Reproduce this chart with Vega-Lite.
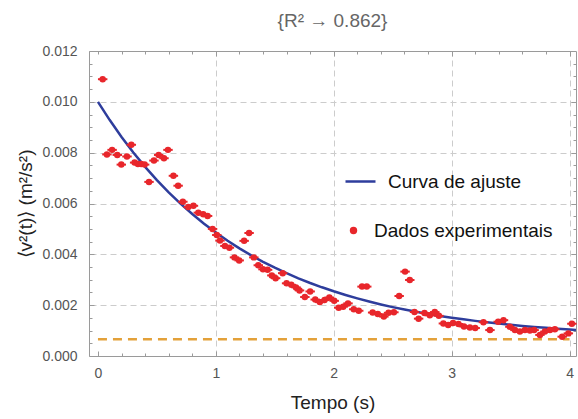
{
  "$schema": "https://vega.github.io/schema/vega-lite/v6.json",
  "width": 487,
  "height": 305,
  "autosize": "none",
  "padding": {"left": 89, "top": 51, "right": 2, "bottom": 63},
  "background": "white",
  "config": {
    "font": "Liberation Sans",
    "view": {"stroke": null},
    "axis": {
      "domainColor": "#9a9a9a",
      "tickColor": "#9a9a9a",
      "labelColor": "#555555",
      "labelFontSize": 14,
      "titleColor": "#222222",
      "titleFontSize": 19,
      "titleFontWeight": "normal",
      "gridColor": "#cccccc",
      "gridDash": [6, 4],
      "gridWidth": 1
    }
  },
  "title": {
    "text": "{R² → 0.862}",
    "fontSize": 19,
    "fontWeight": "normal",
    "color": "#666666",
    "anchor": "middle",
    "offset": 13
  },
  "datasets": {
    "medidas": [
      {"t": 0.04, "v": 0.01089, "dt": 0.04},
      {"t": 0.076, "v": 0.00793, "dt": 0.04},
      {"t": 0.12, "v": 0.00811, "dt": 0.04},
      {"t": 0.164, "v": 0.00791, "dt": 0.04},
      {"t": 0.198, "v": 0.00753, "dt": 0.04},
      {"t": 0.246, "v": 0.00785, "dt": 0.04},
      {"t": 0.283, "v": 0.00831, "dt": 0.04},
      {"t": 0.311, "v": 0.00761, "dt": 0.04},
      {"t": 0.339, "v": 0.00755, "dt": 0.04},
      {"t": 0.367, "v": 0.00755, "dt": 0.04},
      {"t": 0.396, "v": 0.00753, "dt": 0.04},
      {"t": 0.433, "v": 0.00685, "dt": 0.04},
      {"t": 0.475, "v": 0.00769, "dt": 0.04},
      {"t": 0.515, "v": 0.00791, "dt": 0.04},
      {"t": 0.56, "v": 0.00778, "dt": 0.04},
      {"t": 0.594, "v": 0.00811, "dt": 0.04},
      {"t": 0.64, "v": 0.00709, "dt": 0.04},
      {"t": 0.68, "v": 0.0067, "dt": 0.04},
      {"t": 0.72, "v": 0.00607, "dt": 0.04},
      {"t": 0.766, "v": 0.00586, "dt": 0.04},
      {"t": 0.81, "v": 0.00591, "dt": 0.04},
      {"t": 0.851, "v": 0.00564, "dt": 0.04},
      {"t": 0.893, "v": 0.00558, "dt": 0.04},
      {"t": 0.93, "v": 0.00551, "dt": 0.04},
      {"t": 0.972, "v": 0.005, "dt": 0.04},
      {"t": 1.008, "v": 0.00476, "dt": 0.04},
      {"t": 1.035, "v": 0.00454, "dt": 0.04},
      {"t": 1.077, "v": 0.00433, "dt": 0.04},
      {"t": 1.115, "v": 0.00426, "dt": 0.04},
      {"t": 1.158, "v": 0.00388, "dt": 0.04},
      {"t": 1.198, "v": 0.00376, "dt": 0.04},
      {"t": 1.24, "v": 0.00453, "dt": 0.04},
      {"t": 1.282, "v": 0.00484, "dt": 0.04},
      {"t": 1.322, "v": 0.00388, "dt": 0.04},
      {"t": 1.36, "v": 0.00357, "dt": 0.04},
      {"t": 1.4, "v": 0.00341, "dt": 0.04},
      {"t": 1.439, "v": 0.00339, "dt": 0.04},
      {"t": 1.475, "v": 0.00317, "dt": 0.04},
      {"t": 1.507, "v": 0.00306, "dt": 0.04},
      {"t": 1.567, "v": 0.00326, "dt": 0.04},
      {"t": 1.6, "v": 0.00286, "dt": 0.04},
      {"t": 1.64, "v": 0.0028, "dt": 0.04},
      {"t": 1.68, "v": 0.0027, "dt": 0.04},
      {"t": 1.71, "v": 0.00258, "dt": 0.04},
      {"t": 1.755, "v": 0.00232, "dt": 0.04},
      {"t": 1.8, "v": 0.00254, "dt": 0.04},
      {"t": 1.843, "v": 0.00222, "dt": 0.04},
      {"t": 1.882, "v": 0.00212, "dt": 0.04},
      {"t": 1.922, "v": 0.0022, "dt": 0.04},
      {"t": 1.963, "v": 0.0023, "dt": 0.04},
      {"t": 2.004, "v": 0.00217, "dt": 0.04},
      {"t": 2.042, "v": 0.0019, "dt": 0.04},
      {"t": 2.08, "v": 0.00194, "dt": 0.04},
      {"t": 2.121, "v": 0.00207, "dt": 0.04},
      {"t": 2.17, "v": 0.00184, "dt": 0.04},
      {"t": 2.212, "v": 0.00178, "dt": 0.04},
      {"t": 2.24, "v": 0.00273, "dt": 0.04},
      {"t": 2.28, "v": 0.00273, "dt": 0.04},
      {"t": 2.33, "v": 0.00171, "dt": 0.04},
      {"t": 2.374, "v": 0.00165, "dt": 0.04},
      {"t": 2.425, "v": 0.00155, "dt": 0.04},
      {"t": 2.465, "v": 0.0017, "dt": 0.04},
      {"t": 2.51, "v": 0.00172, "dt": 0.04},
      {"t": 2.555, "v": 0.00236, "dt": 0.04},
      {"t": 2.605, "v": 0.00332, "dt": 0.04},
      {"t": 2.645, "v": 0.00299, "dt": 0.04},
      {"t": 2.685, "v": 0.00173, "dt": 0.04},
      {"t": 2.72, "v": 0.00147, "dt": 0.04},
      {"t": 2.77, "v": 0.00169, "dt": 0.04},
      {"t": 2.815, "v": 0.0016, "dt": 0.04},
      {"t": 2.857, "v": 0.00173, "dt": 0.04},
      {"t": 2.892, "v": 0.00158, "dt": 0.04},
      {"t": 2.93, "v": 0.00128, "dt": 0.04},
      {"t": 2.971, "v": 0.00122, "dt": 0.04},
      {"t": 3.012, "v": 0.0013, "dt": 0.04},
      {"t": 3.058, "v": 0.00126, "dt": 0.04},
      {"t": 3.105, "v": 0.00116, "dt": 0.04},
      {"t": 3.155, "v": 0.00112, "dt": 0.04},
      {"t": 3.2, "v": 0.0011, "dt": 0.04},
      {"t": 3.27, "v": 0.00133, "dt": 0.04},
      {"t": 3.325, "v": 0.00102, "dt": 0.04},
      {"t": 3.395, "v": 0.00135, "dt": 0.04},
      {"t": 3.44, "v": 0.00141, "dt": 0.04},
      {"t": 3.494, "v": 0.00115, "dt": 0.04},
      {"t": 3.537, "v": 0.00102, "dt": 0.04},
      {"t": 3.579, "v": 0.00096, "dt": 0.04},
      {"t": 3.622, "v": 0.00102, "dt": 0.04},
      {"t": 3.664, "v": 0.001, "dt": 0.04},
      {"t": 3.7, "v": 0.00102, "dt": 0.04},
      {"t": 3.749, "v": 0.00083, "dt": 0.04},
      {"t": 3.791, "v": 0.00096, "dt": 0.04},
      {"t": 3.834, "v": 0.00102, "dt": 0.04},
      {"t": 3.876, "v": 0.00105, "dt": 0.04},
      {"t": 3.938, "v": 0.00076, "dt": 0.04},
      {"t": 3.99, "v": 0.00089, "dt": 0.04},
      {"t": 4.02, "v": 0.00127, "dt": 0.04}
    ],
    "ajuste": [
      {"t": 0.0, "v": 0.01},
      {"t": 0.1, "v": 0.009282},
      {"t": 0.2, "v": 0.008619},
      {"t": 0.3, "v": 0.008007},
      {"t": 0.4, "v": 0.007442},
      {"t": 0.5, "v": 0.006921},
      {"t": 0.6, "v": 0.006439},
      {"t": 0.7, "v": 0.005995},
      {"t": 0.8, "v": 0.005585},
      {"t": 0.9, "v": 0.005206},
      {"t": 1.0, "v": 0.004857},
      {"t": 1.1, "v": 0.004534},
      {"t": 1.2, "v": 0.004236},
      {"t": 1.3, "v": 0.003961},
      {"t": 1.4, "v": 0.003707},
      {"t": 1.5, "v": 0.003473},
      {"t": 1.6, "v": 0.003257},
      {"t": 1.7, "v": 0.003057},
      {"t": 1.8, "v": 0.002873},
      {"t": 1.9, "v": 0.002703},
      {"t": 2.0, "v": 0.002546},
      {"t": 2.1, "v": 0.002401},
      {"t": 2.2, "v": 0.002267},
      {"t": 2.3, "v": 0.002143},
      {"t": 2.4, "v": 0.002029},
      {"t": 2.5, "v": 0.001924},
      {"t": 2.6, "v": 0.001827},
      {"t": 2.7, "v": 0.001737},
      {"t": 2.8, "v": 0.001654},
      {"t": 2.9, "v": 0.001578},
      {"t": 3.0, "v": 0.001507},
      {"t": 3.1, "v": 0.001442},
      {"t": 3.2, "v": 0.001382},
      {"t": 3.3, "v": 0.001327},
      {"t": 3.4, "v": 0.001275},
      {"t": 3.5, "v": 0.001228},
      {"t": 3.6, "v": 0.001184},
      {"t": 3.7, "v": 0.001144},
      {"t": 3.8, "v": 0.001107},
      {"t": 3.9, "v": 0.001072},
      {"t": 4.0, "v": 0.001041},
      {"t": 4.055, "v": 0.001025}
    ],
    "limite": [
      {"t0": 0, "t1": 4, "v": 0.00066}
    ]
  },
  "layer": [
    {
      "description": "Asymptotic level of the fit (dashed orange)",
      "data": {"name": "limite"},
      "mark": {"type": "rule", "color": "#E3A13A", "strokeWidth": 2.5, "strokeDash": [9, 6]},
      "encoding": {
        "x": {
          "field": "t0",
          "type": "quantitative",
          "scale": {"domain": [-0.076, 4.055], "nice": false, "zero": false},
          "axis": {
            "orient": "top",
            "values": [0, 0.2, 0.4, 0.6, 0.8, 1.2, 1.4, 1.6, 1.8, 2.2, 2.4, 2.6, 2.8, 3.2, 3.4, 3.6, 3.8],
            "labels": false, "domain": false, "grid": false, "tickSize": -3, "title": null
          }
        },
        "x2": {"field": "t1"},
        "y": {
          "field": "v",
          "type": "quantitative",
          "scale": {"domain": [0, 0.012], "nice": false, "zero": false},
          "axis": {
            "orient": "right",
            "values": [0.0005, 0.001, 0.0015, 0.0025, 0.003, 0.0035, 0.0045, 0.005, 0.0055, 0.0065, 0.007, 0.0075, 0.0085, 0.009, 0.0095, 0.0105, 0.011, 0.0115],
            "labels": false, "domain": false, "grid": false, "tickSize": -3, "title": null
          }
        }
      }
    },
    {
      "description": "Exponential fit curve",
      "data": {"name": "ajuste"},
      "mark": {"type": "line", "strokeWidth": 2.5, "clip": true},
      "encoding": {
        "x": {
          "field": "t", "type": "quantitative",
          "axis": {
            "orient": "bottom",
            "values": [0.2, 0.4, 0.6, 0.8, 1.2, 1.4, 1.6, 1.8, 2.2, 2.4, 2.6, 2.8, 3.2, 3.4, 3.6, 3.8],
            "labels": false, "domain": false, "grid": false, "tickSize": -3, "title": null
          }
        },
        "y": {
          "field": "v", "type": "quantitative",
          "axis": {
            "orient": "left",
            "values": [0.0005, 0.001, 0.0015, 0.0025, 0.003, 0.0035, 0.0045, 0.005, 0.0055, 0.0065, 0.007, 0.0075, 0.0085, 0.009, 0.0095, 0.0105, 0.011, 0.0115],
            "labels": false, "domain": false, "grid": false, "tickSize": -3, "title": null
          }
        },
        "color": {
          "datum": "Curva de ajuste",
          "scale": {"range": ["#2E3D9C"]},
          "legend": {
            "orient": "none",
            "legendX": 255,
            "legendY": 114,
            "title": null,
            "symbolType": "stroke",
            "symbolSize": 900,
            "symbolStrokeWidth": 2.5,
            "labelFontSize": 19,
            "labelLimit": 300,
            "labelColor": "#111111",
            "labelOffset": 11
          }
        }
      }
    },
    {
      "description": "Horizontal uncertainty of each measurement",
      "data": {"name": "medidas"},
      "mark": {"type": "errorbar", "color": "#E8262B", "thickness": 2},
      "encoding": {
        "x": {
          "field": "t", "type": "quantitative",
          "axis": {
            "orient": "top",
            "values": [1, 2, 3, 4],
            "labels": false, "domain": true, "grid": true, "tickSize": -5, "title": null
          }
        },
        "xError": {"field": "dt"},
        "y": {
          "field": "v", "type": "quantitative",
          "axis": {
            "orient": "right",
            "values": [0.002, 0.004, 0.006, 0.008, 0.01],
            "labels": false, "domain": true, "grid": true, "tickSize": -5, "title": null
          }
        }
      }
    },
    {
      "description": "Measured mean squared speed",
      "data": {"name": "medidas"},
      "mark": {"type": "point", "filled": true, "opacity": 1, "size": 42},
      "encoding": {
        "x": {
          "field": "t", "type": "quantitative",
          "axis": {
            "orient": "bottom",
            "values": [0, 1, 2, 3, 4],
            "labels": true, "domain": true, "grid": false, "tickSize": -5,
            "labelPadding": 15,
            "title": "Tempo (s)",
            "titlePadding": 13
          }
        },
        "y": {
          "field": "v", "type": "quantitative",
          "axis": {
            "orient": "left",
            "values": [0, 0.002, 0.004, 0.006, 0.008, 0.01, 0.012],
            "format": ".3f",
            "labels": true, "domain": true, "grid": false, "tickSize": -5,
            "labelPadding": 17,
            "title": "⟨v²(t)⟩ (m²/s²)",
            "titlePadding": 6
          }
        },
        "color": {
          "datum": "Dados experimentais",
          "scale": {"range": ["#E8262B"]},
          "legend": {
            "orient": "none",
            "legendX": 255,
            "legendY": 170,
            "title": null,
            "symbolType": "circle",
            "symbolSize": 55,
            "labelFontSize": 19,
            "labelLimit": 300,
            "labelColor": "#111111",
            "labelOffset": 11
          }
        }
      }
    }
  ],
  "resolve": {
    "axis": {"x": "independent", "y": "independent"},
    "scale": {"color": "independent"}
  }
}
